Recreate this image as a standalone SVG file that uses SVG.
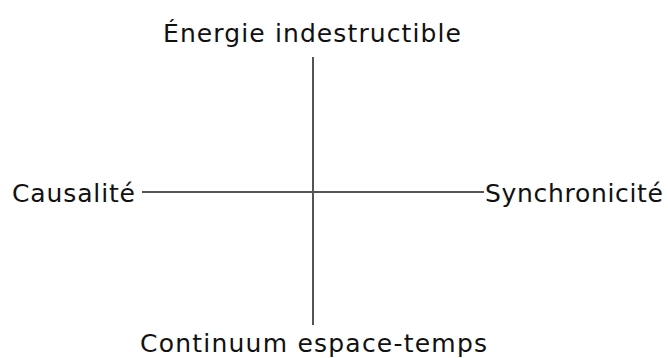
<svg xmlns="http://www.w3.org/2000/svg" width="668" height="358" viewBox="0 0 668 358">
<style>
.lbl{font-family:"DejaVu Sans",sans-serif;font-size:25px;fill:#111}
.ax{stroke:#555;stroke-width:2;fill:none}
</style>
<rect width="668" height="358" fill="#fff"/>
<g id="connectors">
<line class="ax" x1="313" y1="57" x2="313" y2="325"/>
<line class="ax" x1="142" y1="192" x2="484" y2="192"/>
</g>
<g id="n-top"><text class="lbl" x="163" y="42" textLength="298" lengthAdjust="spacing">Énergie indestructible</text></g>
<g id="n-left"><text class="lbl" x="12" y="202" textLength="123" lengthAdjust="spacing">Causalité</text></g>
<g id="n-right"><text class="lbl" x="485" y="202" textLength="178" lengthAdjust="spacing">Synchronicité</text></g>
<g id="n-bottom"><text class="lbl" x="140" y="352" textLength="347" lengthAdjust="spacing">Continuum espace-temps</text></g>
</svg>
